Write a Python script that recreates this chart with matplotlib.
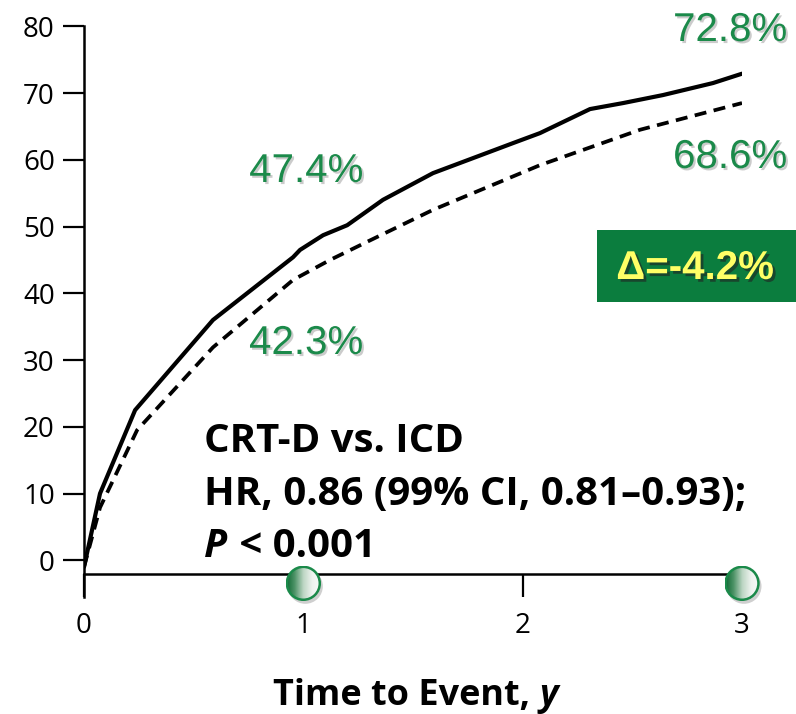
import numpy as np
import matplotlib
matplotlib.use("Agg")
import matplotlib.pyplot as plt
import matplotlib.patheffects as pe
import matplotlib.transforms as mtransforms
from matplotlib.patches import Circle, Rectangle
from matplotlib.colors import LinearSegmentedColormap

# ---- data ----
crtd_t = [0.0, 0.073, 0.233, 0.588, 0.953, 0.985, 1.09, 1.20, 1.363, 1.591,
          1.956, 2.079, 2.307, 2.458, 2.64, 2.868, 3.0]
crtd_v = [-1.0, 10.0, 22.5, 36.0, 45.4, 46.5, 48.7, 50.2, 54.0, 58.0, 62.5,
          64.0, 67.6, 68.5, 69.7, 71.5, 72.9]
icd_t = [0.0, 0.073, 0.242, 0.588, 0.953, 1.122, 1.29, 1.591, 1.897, 2.079,
         2.535, 3.0]
icd_v = [-1.0, 7.9, 19.5, 31.9, 42.0, 45.0, 47.7, 52.5, 56.7, 59.2, 64.5, 68.5]

yticks = [0, 10, 20, 30, 40, 50, 60, 70, 80]
xticks = [0, 1, 2, 3]
marker_years = [1, 3]

labels_crtd = ["47.4%", "72.8%"]
labels_icd = ["42.3%", "68.6%"]
delta_text = "\u0394=-4.2%"
stats_lines = ["CRT-D vs. ICD", "HR, 0.86 (99% CI, 0.81\u20130.93);"]

GREEN = "#1b8a4a"
BOX_GREEN = "#0b7d3e"
W, H = 796, 714
SANS = "Open Sans"

fig = plt.figure(figsize=(W / 100, H / 100), dpi=100)
ax = fig.add_axes([84 / W, 1 - 597 / H, (742 - 84) / W, (597 - 26.3) / H])

ax.plot(crtd_t, crtd_v, color="black", lw=3.0, solid_capstyle="round",
        solid_joinstyle="round", zorder=3)
ax.plot(icd_t, icd_v, color="black", lw=2.7, linestyle=(0, (3.2, 2.0)),
        zorder=3)

ax.set_xlim(0, 3)
ax.set_ylim(-5.5, 80)
ax.spines["top"].set_visible(False)
ax.spines["right"].set_visible(False)
ax.spines["bottom"].set_position(("data", -2.1))
for s in ("left", "bottom"):
    ax.spines[s].set_linewidth(1.8)

ax.set_yticks(yticks)
ax.set_xticks(xticks)
ax.tick_params(axis="y", direction="out", length=15, width=1.6, pad=6,
               labelsize=20)
ax.tick_params(axis="x", direction="out", length=16.5, width=1.6, pad=11,
               labelsize=20)
for lab in ax.get_xticklabels() + ax.get_yticklabels():
    lab.set_fontfamily(SANS)

# percentage labels
shadow = [pe.withSimplePatchShadow(offset=(1.5, -1.5), shadow_rgbFace="#999999", alpha=0.5)]
green_font = dict(family="Liberation Sans", fontsize=29, color=GREEN,
                  ha="center", va="center", path_effects=shadow)
fig.text(306 / W, 1 - 171 / H, labels_crtd[0], **green_font)
fig.text(730 / W, 1 - 30 / H, labels_crtd[1], **green_font)
fig.text(306 / W, 1 - 343 / H, labels_icd[0], **green_font)
fig.text(730 / W, 1 - 157 / H, labels_icd[1], **green_font)

# delta box
fig.patches.append(Rectangle((597 / W, 1 - 302 / H), (796 - 597) / W, 72 / H,
                             transform=fig.transFigure, facecolor=BOX_GREEN,
                             edgecolor="none", zorder=1))
fig.text(695 / W, 1 - 268 / H, delta_text, family="Liberation Sans",
         fontsize=29, fontweight="bold", color="#ffff66", ha="center",
         va="center", zorder=5,
         path_effects=[pe.withSimplePatchShadow(offset=(2, -2),
                                                shadow_rgbFace="#222222",
                                                alpha=0.6)])

# stats text, sized so the long line spans the same width as the reference
fig.canvas.draw()
renderer = fig.canvas.get_renderer()
probe = fig.text(0, 0, stats_lines[1], family=SANS, fontsize=24, fontweight="bold")
stat_size = 24 * 544 / probe.get_window_extent(renderer).width
probe.remove()
probe = fig.text(0, 0, "Time to Event, y", family=SANS, fontsize=26, fontweight="bold")
xl_size = 26 * 287 / probe.get_window_extent(renderer).width
probe.remove()

bold_font = dict(family=SANS, fontsize=stat_size, fontweight="bold",
                 color="black", va="baseline", ha="left")
fig.text(204 / W, 1 - 452 / H, stats_lines[0], **bold_font)
fig.text(204 / W, 1 - 505 / H, stats_lines[1], **bold_font)
t_p = fig.text(204 / W, 1 - 557 / H, "P", style="italic", **bold_font)

t_x = fig.text(273 / W, 1 - 705 / H, "Time to Event, ", family=SANS,
               fontsize=xl_size, fontweight="bold", va="baseline", ha="left")

fig.canvas.draw()
bb = t_p.get_window_extent(renderer)
fig.text((bb.x1 + 2) / W, 1 - 557 / H, " < 0.001", **bold_font)
bb = t_x.get_window_extent(renderer)
fig.text(bb.x1 / W, 1 - 705 / H, "y", family=SANS, fontsize=xl_size,
         fontweight="bold", style="italic", va="baseline", ha="left")

# gradient circles on the time axis
marker_v = -3.45
r = 17.5
cmap = LinearSegmentedColormap.from_list(
    "g", ["#0a6630", "#4f9468", "#bdd6c4", "#eef3ef", "#fafbfa"])
grad = np.linspace(0, 1, 256).reshape(1, -1)
sh_trans = mtransforms.offset_copy(ax.transData, fig=fig, x=2, y=-3, units="dots")
for yr in marker_years:
    ax.scatter([yr], [marker_v], s=(2 * r * 0.72) ** 2, color="#777777",
               alpha=0.35, edgecolors="none", clip_on=False, zorder=6,
               transform=sh_trans)
    cx, cy = ax.transData.transform((yr, marker_v))
    cax = fig.add_axes([(cx - r) / W, (cy - r) / H, 2 * r / W, 2 * r / H])
    cax.set_axis_off()
    im = cax.imshow(grad, cmap=cmap, extent=(0, 1, 0, 1), aspect="auto")
    clip = Circle((0.5, 0.5), 0.47, transform=cax.transAxes)
    im.set_clip_path(clip)
    cax.add_patch(Circle((0.5, 0.5), 0.47, transform=cax.transAxes,
                         facecolor="none", edgecolor=GREEN, lw=1.8))
    cax.set_xlim(0, 1)
    cax.set_ylim(0, 1)

fig.savefig("out.png", dpi=100)
